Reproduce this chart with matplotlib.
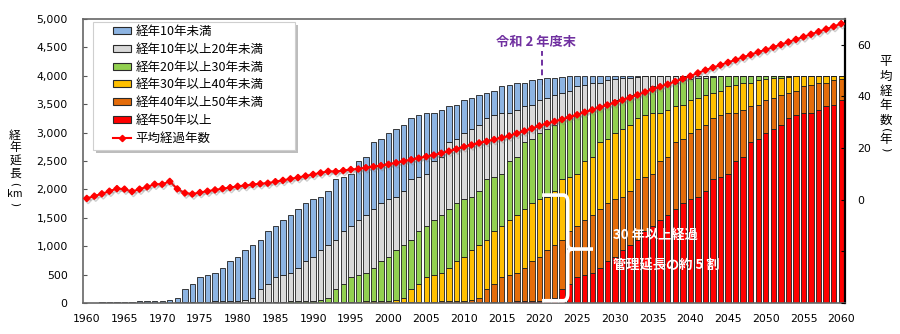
import matplotlib
matplotlib.use("Agg")
import matplotlib.pyplot as plt
import numpy as np
from matplotlib.patches import Patch, Rectangle, PathPatch
from matplotlib.lines import Line2D
from matplotlib.path import Path
from matplotlib.ticker import FuncFormatter
import matplotlib.patheffects as pe

plt.rcParams['font.family'] = ['Noto Sans CJK JP', 'DejaVu Sans']

# ---------------- data ----------------
years = list(range(1960, 2061))

under10 = [5, 5, 10, 10, 15, 20, 25, 30, 30, 35,
           35, 40, 85, 230, 315, 445, 475, 500, 590, 710,
           775, 895, 925, 875, 935, 885, 965, 1025, 1035, 1010,
           1010, 930, 950, 1065, 945, 915, 1030, 1020, 1185, 1130,
           1160, 1185, 1165, 1070, 1105, 1085, 855, 820, 620, 605,
           590, 550, 525, 440, 425, 470, 485, 470, 410, 435,
           365, 360, 310, 295, 255, 175, 160, 130, 125, 70,
           55, 30, 25, 10, 0, 0, 0, 0, 0, 0,
           0, 0, 0, 0, 0, 0, 0, 0, 0, 0,
           0, 0, 0, 0, 0, 0, 0, 0, 0, 0,
           0]

age10_20 = [0] * 10 + [
           5, 5, 10, 10, 15, 20, 25, 30, 30, 35,
           35, 40, 85, 230, 315, 445, 475, 500, 590, 710,
           775, 895, 925, 875, 935, 885, 965, 1025, 1035, 1010,
           1010, 930, 950, 1065, 945, 915, 1030, 1020, 1185, 1130,
           1160, 1185, 1165, 1070, 1105, 1085, 855, 820, 620, 605,
           590, 550, 525, 440, 425, 470, 485, 470, 410, 435,
           365, 360, 310, 295, 255, 175, 160, 130, 125, 70,
           55, 30, 25, 10, 0, 0, 0, 0, 0, 0,
           0, 0, 0, 0, 0, 0, 0, 0, 0, 0,
           0]

age20_30 = [0] * 20 + [
           5, 5, 10, 10, 15, 20, 25, 30, 30, 35,
           35, 40, 85, 230, 315, 445, 475, 500, 590, 710,
           775, 895, 925, 875, 935, 885, 965, 1025, 1035, 1010,
           1010, 930, 950, 1065, 945, 915, 1030, 1020, 1185, 1130,
           1160, 1185, 1165, 1070, 1105, 1085, 855, 820, 620, 605,
           590, 550, 525, 440, 425, 470, 485, 470, 410, 435,
           365, 360, 310, 295, 255, 175, 160, 130, 125, 70,
           55, 30, 25, 10, 0, 0, 0, 0, 0, 0,
           0]

age30_40 = [0] * 30 + [
           5, 5, 10, 10, 15, 20, 25, 30, 30, 35,
           35, 40, 85, 230, 315, 445, 475, 500, 590, 710,
           775, 895, 925, 875, 935, 885, 965, 1025, 1035, 1010,
           1010, 930, 950, 1065, 945, 915, 1030, 1020, 1185, 1130,
           1160, 1185, 1165, 1070, 1105, 1085, 855, 820, 620, 605,
           590, 550, 525, 440, 425, 470, 485, 470, 410, 435,
           365, 360, 310, 295, 255, 175, 160, 130, 125, 70,
           55]

age40_50 = [0] * 40 + [
           5, 5, 10, 10, 15, 20, 25, 30, 30, 35,
           35, 40, 85, 230, 315, 445, 475, 500, 590, 710,
           775, 895, 925, 875, 935, 885, 965, 1025, 1035, 1010,
           1010, 930, 950, 1065, 945, 915, 1030, 1020, 1185, 1130,
           1160, 1185, 1165, 1070, 1105, 1085, 855, 820, 620, 605,
           590, 550, 525, 440, 425, 470, 485, 470, 410, 435,
           365]

over50 = [0] * 50 + [
           5, 5, 10, 10, 15, 20, 25, 30, 30, 35,
           40, 45, 95, 240, 330, 465, 500, 530, 620, 745,
           815, 940, 1020, 1115, 1265, 1350, 1465, 1555, 1655, 1755,
           1825, 1870, 1970, 2180, 2210, 2265, 2495, 2575, 2840, 2885,
           2985, 3055, 3135, 3250, 3315, 3350, 3350, 3395, 3460, 3490,
           3575]

avg_age = [0.5, 1.4, 2.3, 3.3, 4.3, 4.1, 3.2, 4.1, 5.0, 6.0,
           6.0, 7.1, 4.2, 2.6, 2.2, 2.8, 3.3, 3.8, 4.3, 4.7,
           5.2, 5.5, 5.9, 6.2, 6.4, 7.0, 7.5, 8.1, 8.6, 9.2,
           9.8, 10.4, 11.0, 10.9, 11.3, 11.7, 11.9, 12.4, 12.8, 13.2,
           13.7, 14.3, 14.9, 15.5, 16.1, 16.7, 17.3, 18.0, 18.8, 19.6,
           20.5, 21.2, 22.0, 22.6, 23.3, 24.0, 24.7, 25.7, 26.6, 27.6,
           28.6, 29.5, 30.3, 31.1, 32.0, 32.9, 33.9, 34.8, 35.8, 36.7,
           37.6, 38.6, 39.6, 40.6, 41.7, 42.8, 43.8, 44.7, 45.8, 46.8,
           47.9, 49.1, 50.2, 51.2, 52.2, 53.2, 54.2, 55.2, 56.2, 57.2,
           58.1, 59.1, 60.1, 61.1, 62.1, 63.1, 64.1, 65.1, 66.1, 67.1,
           68.2]

series_labels = ['経年10年未満', '経年10年以上20年未満', '経年20年以上30年未満',
                 '経年30年以上40年未満', '経年40年以上50年未満', '経年50年以上']
line_label = '平均経過年数'
series_colors = ['#8DB4E2', '#D9D9D9', '#92D050', '#FFC000', '#E46C0A', '#FF0000']
xtick_years = list(range(1960, 2061, 5))

# ---------------- figure ----------------
W, H = 900, 334
fig = plt.figure(figsize=(W / 100, H / 100), dpi=100)
ax = fig.add_axes([83 / W, 31 / H, 762 / W, 284 / H])

x = np.array(years)
stack = [over50, age40_50, age30_40, age20_30, age10_20, under10]
stack_colors = series_colors[::-1]
bottom = np.zeros(len(years))
for vals, col in zip(stack, stack_colors):
    v = np.array(vals, dtype=float)
    ax.bar(x, v, bottom=bottom, width=0.72, color=col, edgecolor='#1e1e1e',
           linewidth=0.6, zorder=2)
    bottom += v

ax.set_xlim(1959.5, 2060.5)
ax.set_ylim(0, 5000)
ax.set_yticks(range(0, 5001, 500))
ax.yaxis.set_major_formatter(FuncFormatter(lambda v, p: f'{int(v):,}'))
ax.set_xticks(xtick_years)
ax.set_xticklabels([str(y) for y in xtick_years])
ax.tick_params(axis='y', direction='in', length=3, pad=11, labelsize=7.8, color='#555555')
ax.tick_params(axis='x', length=0, pad=8, labelsize=7.8)
for lab in ax.get_xticklabels() + ax.get_yticklabels():
    lab.set_fontfamily('DejaVu Sans')
for s in ['left', 'top', 'bottom']:
    ax.spines[s].set_color('#666666')
    ax.spines[s].set_linewidth(1.2)
ax.spines['right'].set_color('#000000')
ax.spines['right'].set_linewidth(1.6)

# dashed marker line for FY2020
ax.plot([2020.35, 2020.35], [3840, 4440], ls=(0, (3, 2)), color='#7030A0', lw=1.4, zorder=1)
ax.text(2019.6, 4600, '令和 2 年度末', color='#7030A0', fontsize=9.5, fontweight='bold',
        ha='center', va='center')

# white brace
x0, x1, x2 = 2020.35, 2023.75, 2027.1
yt, yb, ym = 1900, 40, 950
verts = [(x0, yt), (x1 - 0.6, yt), (x1, yt), (x1, yt - 120),
         (x1, ym + 90), (x1, ym), (x1 + 0.6, ym), (x2, ym),
         (x1 + 0.6, ym), (x1, ym), (x1, ym - 90),
         (x1, yb + 120), (x1, yb), (x1 - 0.6, yb), (x0, yb)]
codes = [Path.MOVETO, Path.LINETO, Path.CURVE3, Path.CURVE3,
         Path.LINETO, Path.CURVE3, Path.CURVE3, Path.LINETO,
         Path.MOVETO, Path.CURVE3, Path.CURVE3,
         Path.LINETO, Path.CURVE3, Path.CURVE3, Path.LINETO]
ax.add_patch(PathPatch(Path(verts, codes), facecolor='none', edgecolor='white', lw=2.6,
                       zorder=5, capstyle='butt'))
ax.text(2029.8, 1197, '30 年以上経過', color='white', fontsize=9.5, fontweight='bold',
        ha='left', va='center', zorder=6)
ax.text(2029.8, 651, '管理延長の約 5 割', color='white', fontsize=9.5, fontweight='bold',
        ha='left', va='center', zorder=6)

# right axis: average age
ax2 = ax.twinx()
ax2.plot(x, avg_age, color='#FF0000', lw=1.5, marker='D', ms=3.2, zorder=3,
         path_effects=[pe.SimpleLineShadow(offset=(1, -1.5), shadow_color='#777777', alpha=0.35),
                       pe.Normal()])
ax2.set_ylim(-40, 70)
ax2.set_yticks([-40, -20, 0, 20, 40, 60])
ax2.yaxis.set_major_formatter(FuncFormatter(lambda v, p: '' if v < 0 else f'{int(v)}'))
ax2.tick_params(axis='y', direction='in', length=3, pad=9, labelsize=7.8)
for lab in ax2.get_yticklabels():
    lab.set_fontfamily('DejaVu Sans')
for s in ax2.spines.values():
    s.set_visible(False)

# axis labels (vertical text, one character per position)
left_label = [('経', 135, 0, 8.5), ('年', 148, 0, 8.5), ('延', 161, 0, 8.5), ('長', 173, 0, 8.5),
              ('(', 184, 270, 7.5), ('km', 194, 0, 7.5), (')', 204, 270, 7.5)]
for ch, yy, rot, fs in left_label:
    fam = ['DejaVu Sans'] if rot else ['Noto Sans CJK JP', 'DejaVu Sans']
    fig.text(15 / W, 1 - yy / H, ch, ha='center', va='center', fontsize=fs,
             rotation=rot, family=fam)
right_label = [('平', 61, 0, 9), ('均', 76, 0, 9), ('経', 91, 0, 9), ('年', 106, 0, 9),
               ('数', 120, 0, 9), ('(', 130, 270, 8), ('年', 139, 0, 9), (')', 149, 270, 8)]
for ch, yy, rot, fs in right_label:
    fam = ['DejaVu Sans'] if rot else ['Noto Sans CJK JP', 'DejaVu Sans']
    fig.text(886 / W, 1 - yy / H, ch, ha='center', va='center', fontsize=fs,
             rotation=rot, family=fam)

# legend with manual frame + shadow
fig.patches.append(Rectangle((96 / W, 1 - 153 / H), 202 / W, 128 / H, transform=fig.transFigure,
                             facecolor='#bdbdbd', edgecolor='none', zorder=1.8))
fig.patches.append(Rectangle((93 / W, 1 - 150 / H), 202 / W, 128 / H, transform=fig.transFigure,
                             facecolor='white', edgecolor='#cfcfcf', lw=0.8, zorder=1.9))
handles = [Patch(facecolor=c, edgecolor='#2a2a2a', lw=0.8) for c in series_colors]
handles.append(Line2D([], [], color='#FF0000', lw=1.5, marker='D', ms=3.2))
fig.legend(handles, series_labels + [line_label], loc='upper left',
           bbox_to_anchor=(113 / W, 1 - 25 / H), bbox_transform=fig.transFigure,
           frameon=False, fontsize=9, borderpad=0, borderaxespad=0,
           handlelength=1.45, handleheight=0.5, handletextpad=0.35, labelspacing=0.38)

fig.savefig('out.png', dpi=100)
